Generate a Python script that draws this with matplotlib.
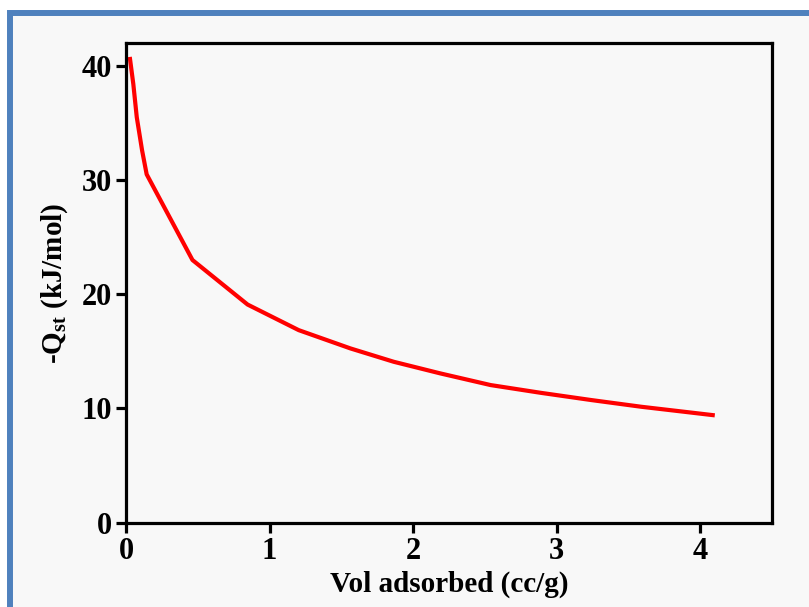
import matplotlib
matplotlib.use("Agg")
import matplotlib.pyplot as plt
from matplotlib.patches import Rectangle

plt.rcParams['font.family'] = 'Liberation Serif'
plt.rcParams['font.weight'] = 'bold'
plt.rcParams['mathtext.fontset'] = 'custom'
plt.rcParams['mathtext.rm'] = 'Liberation Serif:bold'
plt.rcParams['mathtext.bf'] = 'Liberation Serif:bold'

# isosteric heat vs loading
vol = [0.028, 0.051, 0.075, 0.112, 0.144, 0.463, 0.847, 1.203, 1.563, 1.865,
       2.19, 2.54, 2.89, 3.24, 3.59, 3.89, 4.087]
qst = [40.6, 38.4, 35.5, 32.6, 30.5, 23.0, 19.1, 16.86, 15.26, 14.09,
       13.07, 12.05, 11.37, 10.74, 10.15, 9.71, 9.42]

xticks = [0, 1, 2, 3, 4]
yticks = [0, 10, 20, 30, 40]

fig = plt.figure(figsize=(8.09, 6.07), dpi=100, facecolor='white')

# blue frame around the picture
frame = Rectangle((10 / 809, -0.1), 2, 1 - 13 / 607 + 0.1, transform=fig.transFigure,
                  facecolor='#f8f8f8', edgecolor='#4f81bd', lw=4.3, zorder=-10)
fig.patches.append(frame)

ax = fig.add_axes([126 / 809, 1 - 522.7 / 607, (772 - 126) / 809, (522.7 - 43) / 607])
ax.set_facecolor('#f8f8f8')
ax.plot(vol, qst, color='#ff0000', lw=3.0)

ax.set_xlim(0, 4.5)
ax.set_ylim(0, 42)
ax.set_xticks(xticks)
ax.set_yticks(yticks)
for s in ax.spines.values():
    s.set_linewidth(2.3)
ax.tick_params(direction='out', length=7, width=2.3, labelsize=22, pad=3)

ax.set_xlabel('Vol adsorbed (cc/g)', fontsize=21, fontweight='bold', labelpad=4)
ax.set_ylabel('-Q$_{\\mathbf{st}}$ (kJ/mol)', fontsize=21, fontweight='bold', labelpad=8)

fig.savefig('out.png', dpi=100, facecolor=fig.get_facecolor())
